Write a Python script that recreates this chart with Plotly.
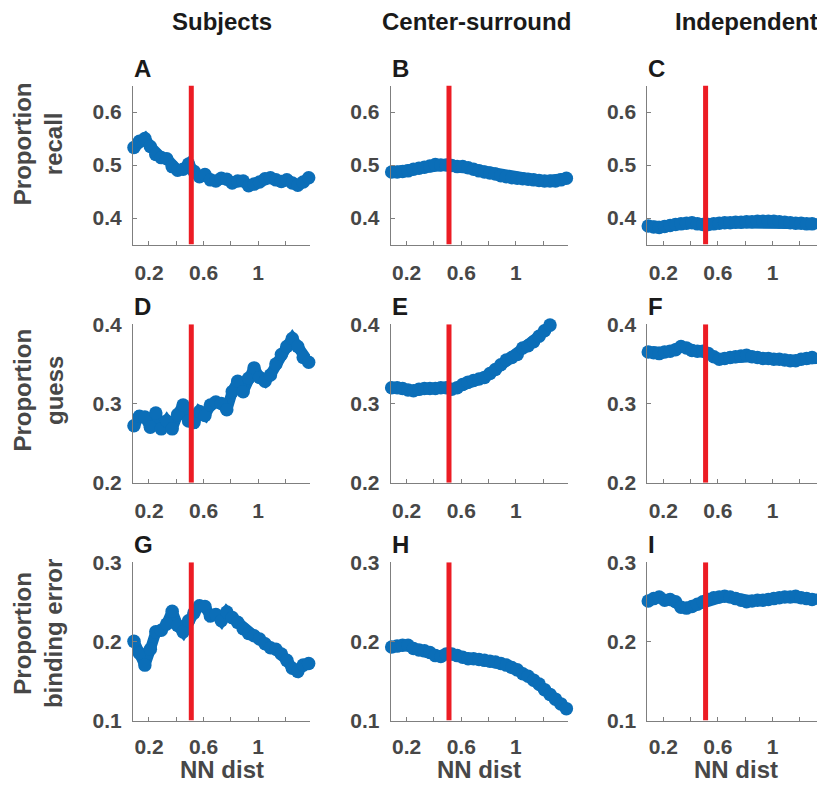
import plotly.graph_objects as go

# ---------------- data ----------------
nn_dist = [0.09, 0.13, 0.17, 0.21, 0.25, 0.29, 0.33, 0.37, 0.41, 0.45, 0.49,
           0.53, 0.57, 0.61, 0.65, 0.69, 0.73, 0.77, 0.81, 0.85, 0.89, 0.93,
           0.97, 1.01, 1.05, 1.09, 1.13, 1.17, 1.21, 1.25, 1.29, 1.33, 1.37]

recall_subjects = [0.533, 0.545, 0.550, 0.535, 0.520, 0.514, 0.512, 0.497, 0.490, 0.492, 0.502,
                   0.488, 0.478, 0.482, 0.472, 0.470, 0.475, 0.473, 0.466, 0.470, 0.470, 0.461,
                   0.464, 0.468, 0.474, 0.476, 0.472, 0.469, 0.472, 0.466, 0.462, 0.468, 0.476]
recall_center = [0.487, 0.487, 0.488, 0.489, 0.492, 0.494, 0.496, 0.498, 0.501, 0.500, 0.500,
                 0.499, 0.497, 0.497, 0.495, 0.492, 0.489, 0.487, 0.485, 0.483, 0.480, 0.478,
                 0.476, 0.475, 0.474, 0.473, 0.472, 0.471, 0.470, 0.470, 0.470, 0.472, 0.475]
recall_indep = [0.385, 0.383, 0.382, 0.384, 0.386, 0.388, 0.389, 0.390, 0.391, 0.389, 0.388,
                0.388, 0.389, 0.390, 0.391, 0.391, 0.392, 0.392, 0.393, 0.393, 0.394, 0.394,
                0.394, 0.394, 0.393, 0.392, 0.391, 0.390, 0.390, 0.389, 0.389, 0.389, 0.389]

guess_subjects = [0.272, 0.284, 0.283, 0.270, 0.288, 0.268, 0.278, 0.268, 0.286, 0.298, 0.278,
                  0.276, 0.290, 0.285, 0.298, 0.302, 0.300, 0.292, 0.315, 0.328, 0.315, 0.332,
                  0.345, 0.333, 0.328, 0.336, 0.350, 0.362, 0.372, 0.382, 0.372, 0.358, 0.352]
guess_center = [0.320, 0.320, 0.319, 0.317, 0.316, 0.318, 0.319, 0.319, 0.319, 0.320, 0.320,
                0.318, 0.320, 0.324, 0.327, 0.329, 0.331, 0.333, 0.338, 0.343, 0.349, 0.355,
                0.358, 0.362, 0.370, 0.373, 0.378, 0.385, 0.392, 0.399]
guess_indep = [0.365, 0.364, 0.363, 0.365, 0.366, 0.368, 0.372, 0.370, 0.367, 0.366, 0.366,
               0.363, 0.359, 0.356, 0.357, 0.358, 0.359, 0.360, 0.361, 0.359, 0.358, 0.357,
               0.357, 0.356, 0.356, 0.355, 0.354, 0.354, 0.356, 0.357, 0.358, 0.357, 0.357]

binding_subjects = [0.200, 0.185, 0.170, 0.190, 0.212, 0.214, 0.222, 0.238, 0.220, 0.212, 0.226,
                    0.236, 0.245, 0.244, 0.232, 0.234, 0.226, 0.237, 0.230, 0.224, 0.216, 0.210,
                    0.207, 0.203, 0.197, 0.192, 0.190, 0.184, 0.176, 0.166, 0.162, 0.170, 0.172]
binding_center = [0.193, 0.194, 0.195, 0.195, 0.191, 0.189, 0.188, 0.186, 0.182, 0.181, 0.184,
                  0.184, 0.182, 0.180, 0.178, 0.178, 0.177, 0.176, 0.175, 0.174, 0.172, 0.170,
                  0.167, 0.164, 0.159, 0.156, 0.151, 0.146, 0.139, 0.133, 0.127, 0.121, 0.115]
binding_indep = [0.251, 0.254, 0.256, 0.252, 0.253, 0.250, 0.243, 0.242, 0.244, 0.247, 0.250,
                 0.253, 0.255, 0.256, 0.257, 0.256, 0.254, 0.252, 0.250, 0.251, 0.252, 0.252,
                 0.253, 0.254, 0.255, 0.256, 0.256, 0.257, 0.255, 0.254, 0.253, 0.253, 0.254]

threshold = 0.51

column_titles = ["Subjects", "Center-surround", "Independent"]
row_titles = ["Proportion<br>recall", "Proportion<br>guess", "Proportion<br>binding error"]
panel_letters = ["A", "B", "C", "D", "E", "F", "G", "H", "I"]
x_title = "NN dist"

y_ranges = [[0.35, 0.65], [0.2, 0.4], [0.1, 0.3]]
y_ticks = [[0.4, 0.5, 0.6], [0.2, 0.3, 0.4], [0.1, 0.2, 0.3]]
y_ticktext = [["0.4", "0.5", "0.6"], ["0.2", "0.3", "0.4"], ["0.1", "0.2", "0.3"]]
x_ticks = [0.2, 0.4, 0.6, 0.8, 1.0, 1.2]
x_ticktext = ["0.2", "", "0.6", "", "1", ""]

series = [[recall_subjects, recall_center, recall_indep],
          [guess_subjects, guess_center, guess_indep],
          [binding_subjects, binding_center, binding_indep]]

# ---------------- layout geometry (pixels) ----------------
W, H = 817, 789
col_left = [133.0, 390.7, 647.3]
plot_w = 177.0
row_top = [83.0, 323.3, 562.7]
row_bot = [243.0, 482.7, 722.0]
x_lo = 0.083
px_per_unit = 136.5


def py(y_screen):
    """screen pixel row -> paper fraction (compensates vertical squeeze of capture)"""
    f = (y_screen - 9.0) / 0.977
    return 1 - f / H


BLUE = "#0b6eb8"
RED = "#ec1c24"
TICK_COL = "#474747"
AXIS_COL = "#7f7f7f"
FONT = "Liberation Sans, Arial, Helvetica, sans-serif"

fig = go.Figure()
layout = dict(width=W, height=H, margin=dict(l=0, r=0, t=0, b=0),
              paper_bgcolor="white", plot_bgcolor="white", showlegend=False,
              font=dict(family=FONT, color=TICK_COL))
annotations = []

for r in range(3):
    for c in range(3):
        k = r * 3 + c + 1
        xa = "xaxis" if k == 1 else f"xaxis{k}"
        ya = "yaxis" if k == 1 else f"yaxis{k}"
        xr = "x" if k == 1 else f"x{k}"
        yr = "y" if k == 1 else f"y{k}"
        x0 = col_left[c] / W
        x1 = min(1.0, (col_left[c] + plot_w) / W)
        x_hi = x_lo + (x1 * W - col_left[c]) / px_per_unit
        layout[xa] = dict(domain=[x0, x1], range=[x_lo, x_hi], anchor=yr,
                          showline=True, linecolor=AXIS_COL, linewidth=1,
                          ticks="inside", ticklen=4, tickwidth=1, tickcolor=AXIS_COL,
                          tickvals=x_ticks, ticktext=x_ticktext,
                          tickfont=dict(size=21, color=TICK_COL, family=FONT, weight="bold"),
                          ticklabelstandoff=9 if r < 2 else 7,
                          showgrid=False, zeroline=False, fixedrange=True)
        layout[ya] = dict(domain=[py(row_bot[r]), py(row_top[r])], range=y_ranges[r], anchor=xr,
                          showline=True, linecolor=AXIS_COL, linewidth=1,
                          ticks="inside", ticklen=4, tickwidth=1, tickcolor=AXIS_COL,
                          tickvals=y_ticks[r], ticktext=y_ticktext[r],
                          tickfont=dict(size=21, color=TICK_COL, family=FONT, weight="bold"),
                          ticklabelstandoff=6,
                          showgrid=False, zeroline=False, fixedrange=True)
        vals = series[r][c]
        fig.add_trace(go.Scatter(x=nn_dist[:len(vals)], y=vals, mode="lines+markers",
                                 line=dict(color=BLUE, width=11),
                                 marker=dict(size=13.5, color=BLUE, line=dict(width=0)),
                                 cliponaxis=False, xaxis=xr, yaxis=yr, hoverinfo="skip"))
        fig.add_trace(go.Scatter(x=[threshold, threshold], y=y_ranges[r], mode="lines",
                                 line=dict(color=RED, width=5),
                                 cliponaxis=False, xaxis=xr, yaxis=yr, hoverinfo="skip"))
        # panel letter
        annotations.append(dict(text=f"<b>{panel_letters[k-1]}</b>", xref="paper", yref="paper",
                                x=(col_left[c] - 1) / W, y=py(row_top[r] - 17.5),
                                xanchor="left", yanchor="middle", showarrow=False,
                                font=dict(size=24, color="#1a1a1a", family=FONT)))

# column titles
col_title_x = [222, 476, 746]
for c in range(3):
    annotations.append(dict(text=f"<b>{column_titles[c]}</b>", xref="paper", yref="paper",
                            x=col_title_x[c] / W, y=py(19), xanchor="center", yanchor="middle",
                            showarrow=False, font=dict(size=24, color="#1a1a1a", family=FONT)))
# x titles
for c in range(3):
    cx = (col_left[c] + plot_w / 2) / W
    annotations.append(dict(text=f"<b>{x_title}</b>", xref="paper", yref="paper",
                            x=cx, y=py(771), xanchor="center", yanchor="middle",
                            showarrow=False, font=dict(size=24, color=TICK_COL, family=FONT)))
# row titles
row_title_y = [142, 390, 635]
for r in range(3):
    annotations.append(dict(text=f"<b>{row_titles[r]}</b>", xref="paper", yref="paper",
                            x=38 / W, y=py(row_title_y[r]), xanchor="center", yanchor="middle",
                            textangle=-90, showarrow=False,
                            font=dict(size=24, color=TICK_COL, family=FONT)))

layout["annotations"] = annotations
fig.update_layout(**layout)
fig.write_html("out.html")
